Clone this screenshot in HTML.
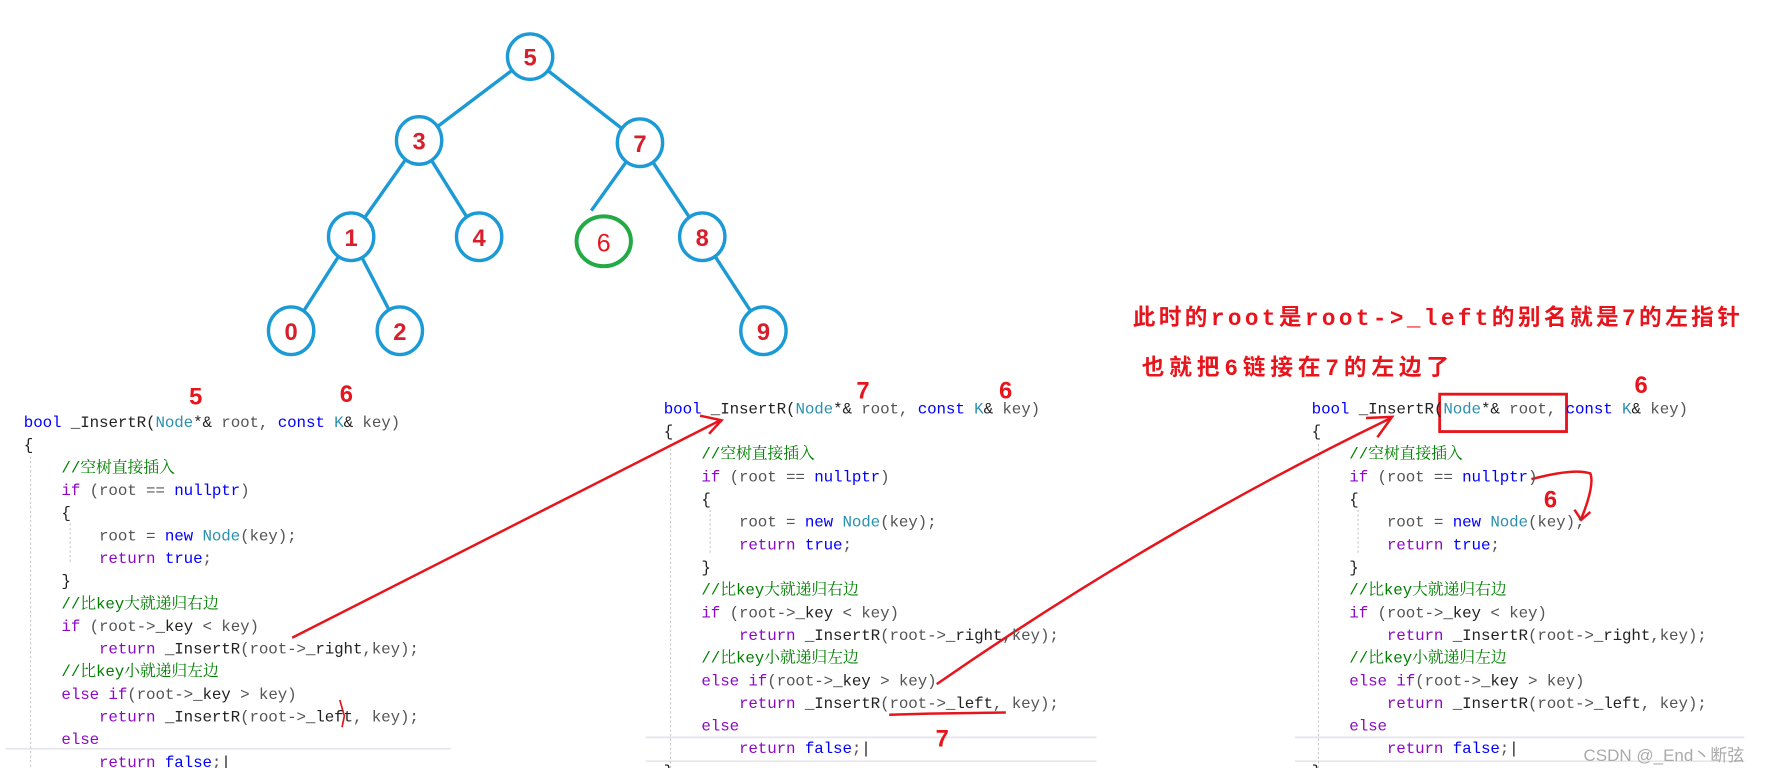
<!DOCTYPE html>
<html><head><meta charset="utf-8"><style>
html,body{margin:0;padding:0;background:#fff;overflow:hidden}
#w{position:relative;width:1560px;height:678px;transform:scale(1.1327);transform-origin:0 0}
.c{position:absolute;white-space:pre;font-family:"Liberation Mono","Noto Serif CJK SC",monospace;font-size:14px;line-height:20px;color:#555;letter-spacing:-0.1px}
.k{color:#0000ff}.p{color:#8f08c4}.t{color:#2b91af}.g{color:#008000}.d{color:#222}
.r{position:absolute;color:#e8141c;font-family:"Liberation Sans",sans-serif;font-weight:bold;font-size:21px;line-height:1}
.n{position:absolute;color:#e8141c;font-family:"Liberation Mono","Noto Sans CJK SC",sans-serif;font-weight:bold;font-size:20px;white-space:nowrap;line-height:1}
svg{position:absolute;left:0;top:0}
</style></head><body><div id="w">
<svg width="1560" height="678" viewBox="0 0 1560 678">
<g stroke="#1b9ad6" stroke-width="3" fill="none">
<line x1="468" y1="50" x2="370" y2="124"/><line x1="468" y1="50" x2="565" y2="126"/>
<line x1="370" y1="124" x2="310" y2="209"/><line x1="370" y1="124" x2="423" y2="209"/>
<line x1="565" y1="126" x2="522" y2="186"/><line x1="565" y1="126" x2="620" y2="209"/>
<line x1="310" y1="209" x2="257" y2="292"/><line x1="310" y1="209" x2="353" y2="292"/>
<line x1="620" y1="209" x2="674" y2="292"/>
</g>
<g stroke="#1b9ad6" stroke-width="3" fill="#fff">
<ellipse cx="468" cy="50" rx="20" ry="20"/><ellipse cx="370" cy="124" rx="20" ry="21"/><ellipse cx="565" cy="126" rx="20" ry="21"/>
<ellipse cx="310" cy="209" rx="20" ry="21"/><ellipse cx="423" cy="209" rx="20" ry="21"/><ellipse cx="620" cy="209" rx="20" ry="21"/>
<ellipse cx="257" cy="292" rx="20" ry="21"/><ellipse cx="353" cy="292" rx="20" ry="21"/><ellipse cx="674" cy="292" rx="20" ry="21"/>
</g>
<ellipse cx="533" cy="213" rx="24" ry="22" stroke="#22aa44" stroke-width="3.5" fill="#fff"/>
<g fill="#d81e2a" font-family="Liberation Sans,sans-serif" font-weight="bold" font-size="21" text-anchor="middle">
<text x="468" y="58">5</text><text x="370" y="132">3</text><text x="565" y="134">7</text>
<text x="310" y="217">1</text><text x="423" y="217">4</text><text x="620" y="217">8</text>
<text x="257" y="300">0</text><text x="353" y="300">2</text><text x="674" y="300">9</text>
</g>
<text x="533" y="222" fill="#e8141c" font-family="Liberation Sans,sans-serif" font-size="22" text-anchor="middle">6</text>
<g stroke="#e6e6ee" stroke-width="1.5">
<line x1="5" y1="661" x2="398" y2="661"/>
<line x1="570" y1="651" x2="968" y2="651"/><line x1="570" y1="672" x2="968" y2="672"/>
<line x1="1143" y1="651" x2="1540" y2="651"/><line x1="1143" y1="672" x2="1540" y2="672"/>
</g>
<g stroke="#ccc" stroke-width="1" stroke-dasharray="2,2">
<line x1="27" y1="403" x2="27" y2="678"/><line x1="62" y1="462" x2="62" y2="498"/>
<line x1="592" y1="392" x2="592" y2="678"/><line x1="627" y1="450" x2="627" y2="488"/>
<line x1="1164" y1="392" x2="1164" y2="678"/><line x1="1199" y1="450" x2="1199" y2="488"/>
</g>
<g stroke="#e8141c" stroke-width="2.2" fill="none">
<line x1="258" y1="563" x2="636" y2="371"/><path d="M618 367 L637 371 L626 383"/>
<path d="M827 604 Q1020 470 1228 369"/><path d="M1206 369 L1229 368 L1216 386"/>
<path d="M785 631 L820 630 L888 629"/>
<rect x="1271" y="348" width="112" height="33" stroke-width="2.5"/>
<path d="M1352 423 Q1390 413 1404 418 Q1408 428 1396 458"/><path d="M1390 450 L1396 459 L1404 452"/>
<path d="M300 618 L304 632 L302 642" stroke-width="1.5"/>
</g>
</svg>
<div class="r" style="left:167px;top:340px">5</div>
<div class="r" style="left:300px;top:338px">6</div>
<div class="r" style="left:756px;top:335px">7</div>
<div class="r" style="left:882px;top:335px">6</div>
<div class="r" style="left:826px;top:642px">7</div>
<div class="r" style="left:1443px;top:330px">6</div>
<div class="r" style="left:1363px;top:431px">6</div>
<div class="n" style="left:1000px;top:273px;letter-spacing:3px">此时的root是root-&gt;_left的别名就是7的左指针</div>
<div class="n" style="left:1008px;top:317px;letter-spacing:4.3px">也就把6链接在7的左边了</div>
<div style="position:absolute;left:1398px;top:656px;color:#aaa;font-family:'Liberation Sans','Noto Sans CJK SC',sans-serif;font-size:15px;white-space:nowrap">CSDN @_End丶断弦</div>

<div class="c" style="left:21px;top:364px"><span class="k">bool</span> <span class="d">_InsertR(</span><span class="t">Node</span><span class="d">*&amp;</span> root, <span class="k">const</span> <span class="t">K</span><span class="d">&amp;</span> key)
<span class="d">{</span>
    <span class="g">//空树直接插入</span>
    <span class="p">if</span> (root == <span class="k">nullptr</span>)
    <span class="d">{</span>
        root = <span class="k">new</span> <span class="t">Node</span>(key);
        <span class="p">return</span> <span class="k">true</span>;
    <span class="d">}</span>
    <span class="g">//比key大就递归右边</span>
    <span class="p">if</span> (root-&gt;<span class="d">_key</span> &lt; key)
        <span class="p">return</span> <span class="d">_InsertR</span>(root-&gt;<span class="d">_right</span>,key);
    <span class="g">//比key小就递归左边</span>
    <span class="p">else if</span>(root-&gt;<span class="d">_key</span> &gt; key)
        <span class="p">return</span> <span class="d">_InsertR</span>(root-&gt;<span class="d">_left</span>, key);
    <span class="p">else</span>
        <span class="p">return</span> <span class="k">false</span>;<span class="d">|</span></div>

<div class="c" style="left:586px;top:352px"><span class="k">bool</span> <span class="d">_InsertR(</span><span class="t">Node</span><span class="d">*&amp;</span> root, <span class="k">const</span> <span class="t">K</span><span class="d">&amp;</span> key)
<span class="d">{</span>
    <span class="g">//空树直接插入</span>
    <span class="p">if</span> (root == <span class="k">nullptr</span>)
    <span class="d">{</span>
        root = <span class="k">new</span> <span class="t">Node</span>(key);
        <span class="p">return</span> <span class="k">true</span>;
    <span class="d">}</span>
    <span class="g">//比key大就递归右边</span>
    <span class="p">if</span> (root-&gt;<span class="d">_key</span> &lt; key)
        <span class="p">return</span> <span class="d">_InsertR</span>(root-&gt;<span class="d">_right</span>,key);
    <span class="g">//比key小就递归左边</span>
    <span class="p">else if</span>(root-&gt;<span class="d">_key</span> &gt; key)
        <span class="p">return</span> <span class="d">_InsertR</span>(root-&gt;<span class="d">_left</span>, key);
    <span class="p">else</span>
        <span class="p">return</span> <span class="k">false</span>;<span class="d">|</span>
<span class="d">}</span></div>

<div class="c" style="left:1158px;top:352px"><span class="k">bool</span> <span class="d">_InsertR(</span><span class="t">Node</span><span class="d">*&amp;</span> root, <span class="k">const</span> <span class="t">K</span><span class="d">&amp;</span> key)
<span class="d">{</span>
    <span class="g">//空树直接插入</span>
    <span class="p">if</span> (root == <span class="k">nullptr</span>)
    <span class="d">{</span>
        root = <span class="k">new</span> <span class="t">Node</span>(key);
        <span class="p">return</span> <span class="k">true</span>;
    <span class="d">}</span>
    <span class="g">//比key大就递归右边</span>
    <span class="p">if</span> (root-&gt;<span class="d">_key</span> &lt; key)
        <span class="p">return</span> <span class="d">_InsertR</span>(root-&gt;<span class="d">_right</span>,key);
    <span class="g">//比key小就递归左边</span>
    <span class="p">else if</span>(root-&gt;<span class="d">_key</span> &gt; key)
        <span class="p">return</span> <span class="d">_InsertR</span>(root-&gt;<span class="d">_left</span>, key);
    <span class="p">else</span>
        <span class="p">return</span> <span class="k">false</span>;<span class="d">|</span>
<span class="d">}</span></div>
</div></body></html>
